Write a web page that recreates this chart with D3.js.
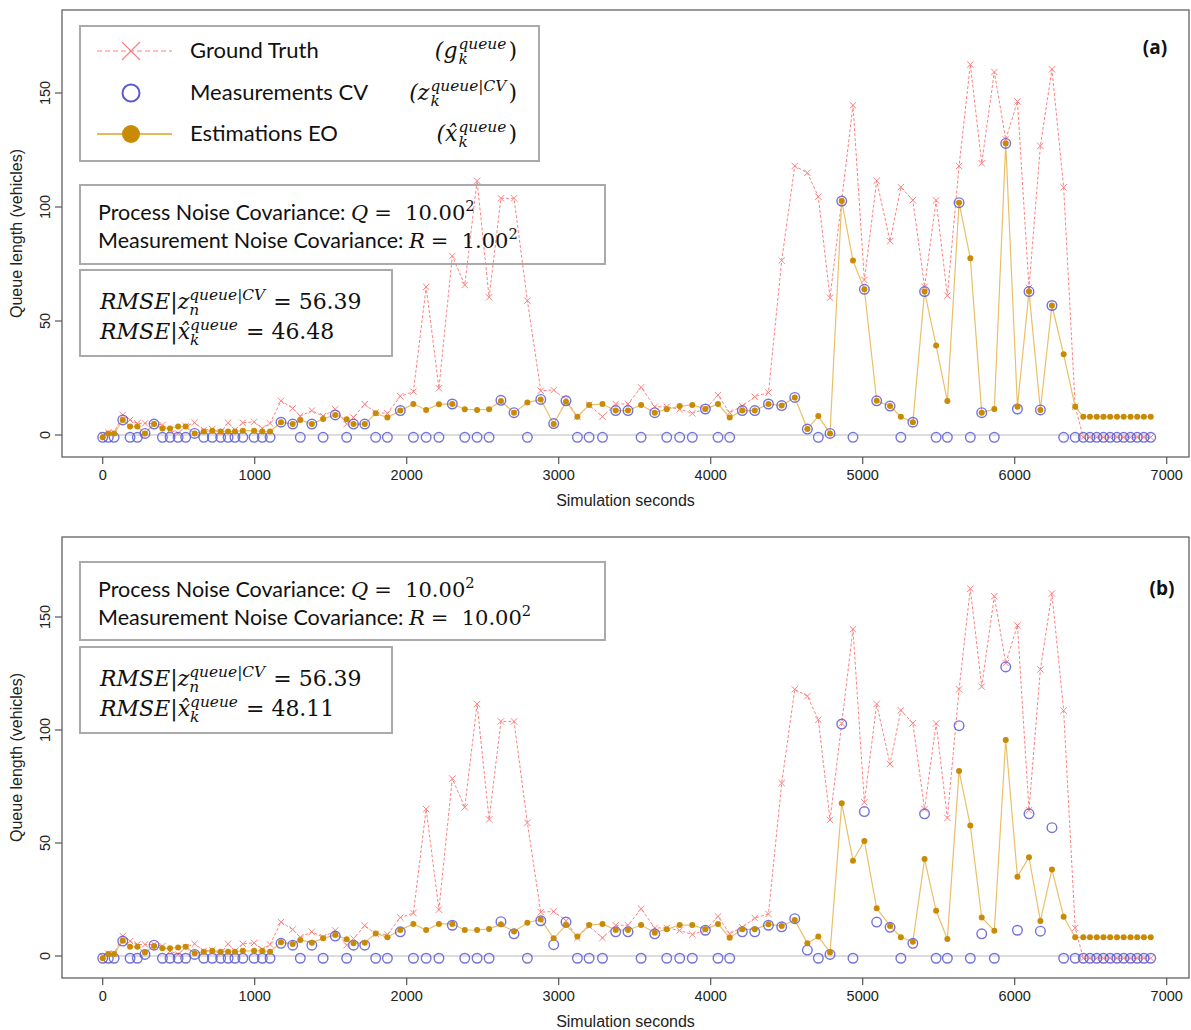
<!DOCTYPE html>
<html lang="en">
<head>
<meta charset="UTF-8">
<title>Queue length estimation</title>
<script src="https://cdn.jsdelivr.net/npm/d3@7"></script>
<style>
  body { margin: 0; background: #fff; }
  svg { display: block; }
</style>
</head>
<body>
<svg id="chart" width="1191" height="1030"></svg>
<script>
// sample times (s)
const times = [0, 37, 75, 132, 180, 228, 278, 338, 393, 443, 496, 546, 605, 665, 721, 776, 825, 870, 922, 996,
  1050, 1101, 1173, 1250, 1300, 1376, 1450, 1530, 1605, 1650, 1724, 1796, 1873, 1958, 2044, 2128, 2212, 2300, 2382, 2463,
  2542, 2620, 2706, 2794, 2882, 2967, 3048, 3123, 3200, 3288, 3375, 3456, 3542, 3632, 3711, 3796, 3879, 3965, 4048, 4125,
  4208, 4290, 4380, 4467, 4553, 4636, 4708, 4785, 4862, 4936, 5011, 5092, 5180, 5251, 5330, 5407, 5483, 5557, 5634, 5708,
  5783, 5866, 5941, 6018, 6094, 6169, 6245, 6322, 6398, 6451, 6495, 6540, 6584, 6628, 6673, 6717, 6762, 6806, 6850, 6895];

const groundTruth = [0, 1, 1, 8.8, 6.6, 5.1, 5.1, 5.1, 4.4, 2.2, 0.7, 3.9, 5.4, 2.2, 2.6, 1, 5.4, 2.2, 5.4, 5.8,
  2.9, 5.1, 15, 11.7, 8.3, 10.7, 8.3, 11.3, 4.8, 7.7, 13.5, 9.8, 9.5, 17, 19, 65, 20.5, 78.5, 65.8, 111.5,
  60.4, 103.8, 103.8, 58.9, 19.4, 19.7, 15.6, 8, 13.2, 8, 13.6, 13.6, 20.9, 12.4, 12.4, 11.3, 9.5, 11.4, 17.5, 9.8,
  12.7, 16.8, 18.6, 76.5, 118, 115, 104.5, 60.2, 103, 144.6, 68, 111.5, 85, 108.7, 103, 65, 102.9, 61.1, 118, 162.5,
  119.2, 159.2, 129.6, 146.3, 64.5, 126.8, 160.4, 108.6, 12.4, -1, -1, -1, -1, -1, -1, -1, -1, -1, -1, -1];

// -1 = no CV measurement at that step
const measurementsCV = [-1, -1, -1, 6.6, -1, -1, 0.7, 4.8, -1, -1, -1, -1, 0.7, -1, -1, -1, -1, -1, -1, -1,
  -1, -1, 5.6, 4.8, -1, 4.8, -1, 8.8, -1, 4.8, 4.8, -1, -1, 10.7, -1, -1, -1, 13.6, -1, -1,
  -1, 15.2, 9.8, -1, 15.6, 5, 15, -1, -1, -1, 10.7, 10.7, -1, 9.8, -1, -1, -1, 11.4, -1, -1,
  10.7, 10.7, 13.6, 12.9, 16.5, 2.6, -1, 0.7, 102.6, -1, 63.9, 15, 12.7, -1, 5.6, 62.9, -1, -1, 101.9, -1,
  9.8, -1, 127.9, 11.4, 62.9, 11, 56.8, -1, -1, -1, -1, -1, -1, -1, -1, -1, -1, -1, -1, -1];

const estimationsA = [-1, 0.7, 0.7, 6.6, 3.7, 3.7, 0.7, 4.8, 2.9, 2.9, 3.7, 3.7, 0.7, 1.5, 1.9, 1.5, 1.5, 1.5, 1.9, 1.9,
  1.5, 1.5, 5.6, 4.8, 6.6, 4.8, 7, 8.8, 6.9, 4.8, 4.8, 9.5, 7.7, 10.7, 13.6, 11, 13.5, 13.6, 11.3, 11,
  11.3, 14.9, 9.8, 14.2, 15.6, 4.8, 14.6, 8, 13.2, 13.6, 10.7, 10.7, 13.2, 9.8, 11.3, 12.7, 13.2, 11.4, 13.6, 7.7,
  10.7, 10.7, 13.6, 12.9, 16.5, 2.6, 8.3, 0.7, 102.6, 76.5, 63.9, 15, 12.7, 8, 5.6, 62.9, 39.2, 14.9, 101.9, 77.5,
  9.8, 11.4, 127.9, 12.4, 62.9, 11, 56.8, 35.4, 12.4, 8, 8, 8, 8, 8, 8, 8, 8, 8, 8, 8];

const estimationsB = [-1, 0.9, 0.9, 6.8, 4.1, 4.1, 1.5, 4.4, 3.4, 3.4, 3.8, 4.1, 1.2, 1.9, 2.3, 1.9, 1.9, 1.9, 2.3, 2.3,
  2.3, 1.9, 6.1, 5.3, 7.1, 5.9, 7.8, 9.3, 7.4, 5.6, 5.9, 10, 8.3, 11.5, 14.2, 11.5, 14.2, 14.2, 11.5, 11.5,
  12, 14, 10.8, 14.7, 16.2, 7.8, 13.7, 8.6, 13.7, 14.2, 11.5, 11.5, 13.7, 10.3, 11.8, 13.7, 13.7, 11.8, 14.2, 8.1,
  11.8, 11.8, 14, 13.3, 15.9, 5.6, 8.6, 1.6, 67.6, 42.2, 50.9, 21.1, 13.3, 8.3, 6.3, 42.9, 20, 7.5, 81.9, 57.7,
  17, 11.2, 95.6, 35.1, 43.7, 15.5, 38.3, 17.4, 8.3, 8.3, 8.3, 8.3, 8.3, 8.3, 8.3, 8.3, 8.3, 8.3, 8.3, 8.3];

const xTicks = [0, 1000, 2000, 3000, 4000, 5000, 6000, 7000];
const yTicks = [0, 50, 100, 150];

const legendItems = ["Ground Truth", "Measurements CV", "Estimations EO"];

const panels = [
  { tag: "(a)", est: estimationsA, top: 10, bottom: 457, y0: 435, y150: 93,
    q: "10.00", r: "1.00", rmseZ: "56.39", rmseX: "46.48",
    box1: [80, 185, 525, 79], box2: [80, 270, 312, 86], legend: true },
  { tag: "(b)", est: estimationsB, top: 537, bottom: 978, y0: 956, y150: 617,
    q: "10.00", r: "10.00", rmseZ: "56.39", rmseX: "48.11",
    box1: [80, 562, 525, 78], box2: [80, 647, 312, 86], legend: false }
];

const PINK = "#ff8080", BLUE = "#5a5ad2", GOLD = "#c98b06", GOLDLINE = "#e9c06a";
const SANS = "Liberation Sans, Arial, sans-serif";
const TEXTF = "Lato, sans-serif";
const MATHF = "DejaVu Serif, serif";
const NB = "\u00a0";

const svg = d3.select("#chart");
const frameL = 62, frameR = 1189;
const x = d3.scaleLinear().domain([0, 7000]).range([102.7, 1166.7]);

// one <text> per formula; stacked sup/sub pairs are placed with dx/dy on tspans
function mathText(g, x0, y, parts, anchorRight) {
  const t = g.append("text").attr("x", x0).attr("y", y).attr("fill", "#111");
  let cur = 0, pendingDx = 0, total = 0;
  parts.forEach(p => {
    if (p.sup !== undefined || p.sub !== undefined) {
      const fs = p.size * 0.7, supY = -p.size * 0.42, subY = p.size * 0.28;
      let w1 = 0, w2 = 0;
      if (p.sup) {
        const s = t.append("tspan").attr("dx", pendingDx).attr("dy", supY - cur)
          .attr("font-family", MATHF).attr("font-style", p.upright ? "normal" : "italic")
          .attr("font-size", fs).text(p.sup);
        pendingDx = 0; cur = supY;
        w1 = s.node().getComputedTextLength();
      }
      let last = w1;
      if (p.sub) {
        const s = t.append("tspan").attr("dx", pendingDx - w1).attr("dy", subY - cur)
          .attr("font-family", MATHF).attr("font-style", "italic").attr("font-size", fs).text(p.sub);
        pendingDx = 0; cur = subY;
        w2 = s.node().getComputedTextLength();
        last = w2;
      }
      const w = Math.max(w1, w2) + (p.gap || 2);
      pendingDx = w - last;
      total += w;
    } else {
      const s = t.append("tspan").attr("dx", pendingDx).attr("dy", -cur)
        .attr("font-family", p.font || MATHF).attr("font-style", p.italic ? "italic" : "normal")
        .attr("font-size", p.size).text(p.t);
      cur = 0;
      const w = s.node().getComputedTextLength();
      pendingDx = p.gap || 0;
      total += w + (p.gap || 0);
    }
  });
  if (anchorRight) t.attr("x", x0 - total);
  return t;
}

panels.forEach(P => {
  const y = d3.scaleLinear().domain([0, 150]).range([P.y0, P.y150]);
  const g = svg.append("g");

  // frame
  g.append("rect").attr("x", frameL).attr("y", P.top).attr("width", frameR - frameL).attr("height", P.bottom - P.top)
    .attr("fill", "none").attr("stroke", "#555").attr("stroke-width", 1.2);

  // x axis
  xTicks.forEach(t => {
    g.append("line").attr("x1", x(t)).attr("x2", x(t)).attr("y1", P.bottom).attr("y2", P.bottom + 7)
      .attr("stroke", "#555").attr("stroke-width", 1.2);
    g.append("text").attr("x", x(t)).attr("y", P.bottom + 23).attr("text-anchor", "middle")
      .attr("font-family", SANS).attr("font-size", 14.5).attr("fill", "#222").text(t);
  });
  g.append("text").attr("x", (frameL + frameR) / 2).attr("y", P.bottom + 49).attr("text-anchor", "middle")
    .attr("font-family", SANS).attr("font-size", 16).attr("fill", "#222").text("Simulation seconds");

  // y axis
  yTicks.forEach(t => {
    g.append("line").attr("x1", frameL - 7).attr("x2", frameL).attr("y1", y(t)).attr("y2", y(t))
      .attr("stroke", "#555").attr("stroke-width", 1.2);
    g.append("text").attr("transform", `translate(${frameL - 12},${y(t)}) rotate(-90)`).attr("text-anchor", "middle")
      .attr("font-family", SANS).attr("font-size", 14.5).attr("fill", "#222").text(t);
  });
  g.append("text").attr("transform", `translate(22,${(P.top + P.bottom) / 2}) rotate(-90)`).attr("text-anchor", "middle")
    .attr("font-family", SANS).attr("font-size", 16).attr("fill", "#222").text("Queue length (vehicles)");

  // boxes (transparent, data lines run over them)
  const [b1x, b1y, b1w, b1h] = P.box1;
  g.append("rect").attr("x", b1x).attr("y", b1y).attr("width", b1w).attr("height", b1h)
    .attr("fill", "none").attr("stroke", "#aaa").attr("stroke-width", 2);
  const [b2x, b2y, b2w, b2h] = P.box2;
  g.append("rect").attr("x", b2x).attr("y", b2y).attr("width", b2w).attr("height", b2h)
    .attr("fill", "none").attr("stroke", "#aaa").attr("stroke-width", 2);

  // zero reference line
  g.append("line").attr("x1", x(times[0])).attr("x2", x(times[times.length - 1]))
    .attr("y1", y(0)).attr("y2", y(0)).attr("stroke", "#dcdcdc").attr("stroke-width", 2);

  // ground truth
  const gtPts = times.map((t, i) => [t, groundTruth[i]]);
  g.append("path").datum(gtPts)
    .attr("d", d3.line().x(d => x(d[0])).y(d => y(d[1])))
    .attr("fill", "none").attr("stroke", PINK).attr("stroke-width", 1).attr("stroke-dasharray", "3,2");
  g.append("g").selectAll("path").data(gtPts).join("path")
    .attr("d", d => { const cx = x(d[0]), cy = y(d[1]), s = 3.2;
      return `M${cx - s},${cy - s}L${cx + s},${cy + s}M${cx - s},${cy + s}L${cx + s},${cy - s}`; })
    .attr("stroke", PINK).attr("stroke-width", 1);

  // estimations line
  const estPts = times.map((t, i) => [t, P.est[i]]);
  g.append("path").datum(estPts).attr("d", d3.line().x(d => x(d[0])).y(d => y(d[1])))
    .attr("fill", "none").attr("stroke", GOLDLINE).attr("stroke-width", 1.2);

  // measurements CV
  g.append("g").selectAll("circle").data(times.map((t, i) => [t, measurementsCV[i]])).join("circle")
    .attr("cx", d => x(d[0])).attr("cy", d => y(d[1])).attr("r", 4.8)
    .attr("fill", "none").attr("stroke", BLUE).attr("stroke-opacity", 0.85).attr("stroke-width", 1.4);

  // estimation dots
  g.append("g").selectAll("circle").data(estPts).join("circle")
    .attr("cx", d => x(d[0])).attr("cy", d => y(d[1])).attr("r", 3)
    .attr("fill", GOLD);

  // panel tag
  g.append("text").attr("x", P.legend ? 1155 : 1162).attr("y", P.legend ? 54 : 595).attr("text-anchor", "middle")
    .attr("font-family", "Open Sans, sans-serif").attr("font-weight", "bold").attr("font-size", 19)
    .attr("fill", "#111").text(P.tag);

  // noise box text
  mathText(g, b1x + 18, b1y + 35, [
    { t: "Process Noise Covariance:" + NB, font: TEXTF, size: 21.5 },
    { t: "Q", italic: true, size: 21, gap: 6 },
    { t: "=" + NB + NB + P.q, size: 21 },
    { sup: "2", size: 21, upright: true }
  ]);
  mathText(g, b1x + 18, b1y + 63, [
    { t: "Measurement Noise Covariance:" + NB, font: TEXTF, size: 21.5 },
    { t: "R", italic: true, size: 21, gap: 6 },
    { t: "=" + NB + NB + P.r, size: 21 },
    { sup: "2", size: 21, upright: true }
  ]);

  // RMSE box text
  mathText(g, b2x + 20, b2y + 39, [
    { t: "RMSE|z", italic: true, size: 22 },
    { sup: "queue|CV", sub: "n", size: 22, gap: 8 },
    { t: "=" + NB + P.rmseZ, size: 22 }
  ]);
  mathText(g, b2x + 20, b2y + 69, [
    { t: "RMSE|x\u0302", italic: true, size: 22 },
    { sup: "queue", sub: "k", size: 22, gap: 8 },
    { t: "=" + NB + P.rmseX, size: 22 }
  ]);

  // legend
  if (P.legend) {
    g.append("rect").attr("x", 80).attr("y", 26).attr("width", 459).attr("height", 135)
      .attr("fill", "#fff").attr("stroke", "#aaa").attr("stroke-width", 2);
    const rowY = [51, 93, 134];
    const lx = 131;
    g.append("line").attr("x1", 97).attr("x2", 172).attr("y1", rowY[0]).attr("y2", rowY[0])
      .attr("stroke", PINK).attr("stroke-dasharray", "5,3");
    g.append("path").attr("d", `M${lx - 9},${rowY[0] - 9}L${lx + 9},${rowY[0] + 9}M${lx - 9},${rowY[0] + 9}L${lx + 9},${rowY[0] - 9}`)
      .attr("stroke", PINK).attr("stroke-width", 1.2);
    g.append("circle").attr("cx", lx).attr("cy", rowY[1]).attr("r", 8.5).attr("fill", "none")
      .attr("stroke", BLUE).attr("stroke-width", 2);
    g.append("line").attr("x1", 97).attr("x2", 172).attr("y1", rowY[2]).attr("y2", rowY[2])
      .attr("stroke", "#d9a520").attr("stroke-width", 1.5);
    g.append("circle").attr("cx", lx).attr("cy", rowY[2]).attr("r", 9).attr("fill", GOLD);
    legendItems.forEach((name, i) => {
      g.append("text").attr("x", 190).attr("y", rowY[i] + 7).attr("font-family", TEXTF).attr("font-size", 22)
        .attr("fill", "#111").text(name);
    });
    mathText(g, 517, rowY[0] + 7, [{ t: "(g", italic: true, size: 22, gap: 1 }, { sup: "queue", sub: "k", size: 22 }, { t: ")", size: 22 }], true);
    mathText(g, 517, rowY[1] + 7, [{ t: "(z", italic: true, size: 22, gap: 1 }, { sup: "queue|CV", sub: "k", size: 22 }, { t: ")", size: 22 }], true);
    mathText(g, 517, rowY[2] + 7, [{ t: "(x\u0302", italic: true, size: 22, gap: 1 }, { sup: "queue", sub: "k", size: 22 }, { t: ")", size: 22 }], true);
  }
});
</script>
</body>
</html>
